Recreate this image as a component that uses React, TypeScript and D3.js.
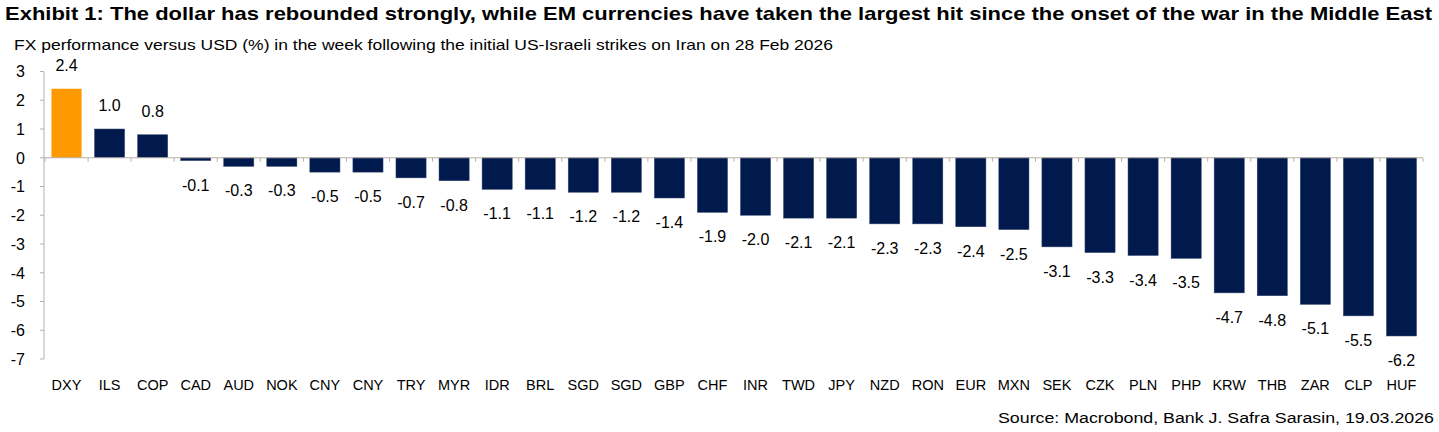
import React from "react";
import * as d3 from "d3";

const categories = ["DXY","ILS","COP","CAD","AUD","NOK","CNY","CNY","TRY","MYR","IDR","BRL","SGD","SGD","GBP","CHF","INR","TWD","JPY","NZD","RON","EUR","MXN","SEK","CZK","PLN","PHP","KRW","THB","ZAR","CLP","HUF"];
const values = [2.4,1.0,0.8,-0.1,-0.3,-0.3,-0.5,-0.5,-0.7,-0.8,-1.1,-1.1,-1.2,-1.2,-1.4,-1.9,-2.0,-2.1,-2.1,-2.3,-2.3,-2.4,-2.5,-3.1,-3.3,-3.4,-3.5,-4.7,-4.8,-5.1,-5.5,-6.2];
const yTicks = [3,2,1,0,-1,-2,-3,-4,-5,-6,-7];
const title = "Exhibit 1: The dollar has rebounded strongly, while EM currencies have taken the largest hit since the onset of the war in the Middle East";
const subtitle = "FX performance versus USD (%) in the week following the initial US-Israeli  strikes on Iran on 28 Feb 2026";
const source = "Source: Macrobond, Bank J. Safra Sarasin, 19.03.2026";

const W = 1439, H = 432;
const axisX = 44, left = 45, right = 1423, top = 71.5, bottom = 359;

export default function App() {
  const x = d3.scaleBand<number>().domain(d3.range(categories.length)).range([left, right]).paddingInner(0.3).paddingOuter(0.15);
  const y = d3.scaleLinear().domain([-7, 3]).range([bottom, top]);
  const step = x.step();
  const font = "'Liberation Sans', Arial, sans-serif";
  const axisColor = "#b8b0a6";
  return (
    <svg width={W} height={H} style={{ position: "absolute", left: 0, top: 0, background: "#fff" }} fontFamily={font}>
      <text x={5} y={20} fontSize={19} fontWeight="bold" fill="#000" textLength={1427} lengthAdjust="spacingAndGlyphs">{title}</text>
      <text x={14} y={50} fontSize={14.5} fill="#000" textLength={819} lengthAdjust="spacingAndGlyphs">{subtitle}</text>
      {/* y axis */}
      <line x1={axisX} x2={axisX} y1={top} y2={bottom} stroke={axisColor} strokeWidth={1} />
      {yTicks.map((t) => (
        <g key={t}>
          <line x1={axisX - 4} x2={axisX} y1={y(t)} y2={y(t)} stroke={axisColor} />
          <text x={25} y={y(t)} dy="0.36em" textAnchor="end" fontSize={16} fill="#000">{t}</text>
        </g>
      ))}
      {/* bars */}
      {values.map((v, i) => (
        <rect key={i} x={x(i)} y={Math.min(y(v), y(0))} width={x.bandwidth()} height={Math.abs(y(v) - y(0))}
          fill={i === 0 ? "#FF9900" : "#001A4E"} stroke={i === 0 ? "none" : "#3a4a6e"} strokeWidth={0.5} />
      ))}
      {/* zero line and category ticks */}
      <line x1={axisX} x2={right} y1={y(0)} y2={y(0)} stroke={axisColor} strokeWidth={1.2} />
      {d3.range(categories.length + 1).map((i) => (
        <line key={i} x1={left + i * step} x2={left + i * step} y1={y(0)} y2={y(0) + 4} stroke={axisColor} />
      ))}
      {/* value labels */}
      {values.map((v, i) => (
        <text key={i} x={(x(i) as number) + x.bandwidth() / 2} y={v >= 0 ? y(v) - 18 : y(v) + 30} textAnchor="middle" fontSize={16} fill="#000">
          {v.toFixed(1)}
        </text>
      ))}
      {/* category labels */}
      {categories.map((c, i) => (
        <text key={i} x={(x(i) as number) + x.bandwidth() / 2} y={390} textAnchor="middle" fontSize={14.5} fill="#000">{c}</text>
      ))}
      <text x={1434} y={423} textAnchor="end" fontSize={15.5} fill="#000" textLength={436} lengthAdjust="spacingAndGlyphs">{source}</text>
    </svg>
  );
}
